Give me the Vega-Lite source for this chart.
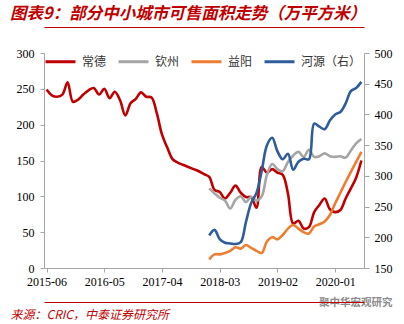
{
  "$schema": "https://vega.github.io/schema/vega-lite/v6.json",
  "width": 320,
  "height": 215,
  "autosize": {"type": "none"},
  "padding": {"left": 44, "top": 53, "right": 40, "bottom": 56},
  "background": "white",
  "title": {
    "text": "图表9：部分中小城市可售面积走势（万平方米）",
    "anchor": "start",
    "frame": "bounds",
    "font": "Noto Sans CJK SC",
    "fontSize": 16.5,
    "fontWeight": "bold",
    "fontStyle": "italic",
    "color": "#C00000",
    "offset": 5
  },
  "data": {
    "values": [
      {"m": "2015-06", "常德": 249},
      {"m": "2015-07", "常德": 241},
      {"m": "2015-08", "常德": 239},
      {"m": "2015-09", "常德": 242},
      {"m": "2015-10", "常德": 259},
      {"m": "2015-11", "常德": 232},
      {"m": "2015-12", "常德": 235},
      {"m": "2016-01", "常德": 242},
      {"m": "2016-02", "常德": 248},
      {"m": "2016-03", "常德": 251},
      {"m": "2016-04", "常德": 242},
      {"m": "2016-05", "常德": 250},
      {"m": "2016-06", "常德": 237},
      {"m": "2016-07", "常德": 246},
      {"m": "2016-08", "常德": 234},
      {"m": "2016-09", "常德": 213},
      {"m": "2016-10", "常德": 230},
      {"m": "2016-11", "常德": 236},
      {"m": "2016-12", "常德": 245},
      {"m": "2017-01", "常德": 239},
      {"m": "2017-02", "常德": 238},
      {"m": "2017-03", "常德": 216},
      {"m": "2017-04", "常德": 186},
      {"m": "2017-05", "常德": 168},
      {"m": "2017-06", "常德": 152},
      {"m": "2017-07", "常德": 147},
      {"m": "2017-08", "常德": 144},
      {"m": "2017-09", "常德": 141},
      {"m": "2017-10", "常德": 138},
      {"m": "2017-11", "常德": 135},
      {"m": "2017-12", "常德": 131},
      {"m": "2018-01", "常德": 127, "钦州": 111, "益阳": 12, "河源（右）": 203},
      {"m": "2018-02", "常德": 109, "钦州": 104, "益阳": 19, "河源（右）": 212},
      {"m": "2018-03", "常德": 106, "钦州": 98, "益阳": 19, "河源（右）": 197},
      {"m": "2018-04", "常德": 97, "钦州": 94, "益阳": 21, "河源（右）": 191},
      {"m": "2018-05", "常德": 105, "钦州": 83, "益阳": 24, "河源（右）": 190},
      {"m": "2018-06", "常德": 115, "钦州": 95, "益阳": 29, "河源（右）": 189},
      {"m": "2018-07", "常德": 105, "钦州": 100, "益阳": 27, "河源（右）": 192},
      {"m": "2018-08", "常德": 99, "钦州": 92, "益阳": 32, "河源（右）": 225},
      {"m": "2018-09", "常德": 99, "钦州": 99, "益阳": 28, "河源（右）": 256},
      {"m": "2018-10", "常德": 84, "钦州": 94, "益阳": 24, "河源（右）": 272},
      {"m": "2018-11", "常德": 141, "钦州": 100, "益阳": 21, "河源（右）": 308},
      {"m": "2018-12", "常德": 133, "钦州": 130, "益阳": 37, "河源（右）": 350},
      {"m": "2019-01", "常德": 138, "钦州": 145, "益阳": 43, "河源（右）": 362},
      {"m": "2019-02", "常德": 133, "钦州": 138, "益阳": 40, "河源（右）": 340},
      {"m": "2019-03", "常德": 130, "钦州": 135, "益阳": 46, "河源（右）": 327},
      {"m": "2019-04", "常德": 104, "钦州": 148, "益阳": 55, "河源（右）": 336},
      {"m": "2019-05", "常德": 62, "钦州": 157, "益阳": 60, "河源（右）": 310},
      {"m": "2019-06", "常德": 66, "钦州": 162, "益阳": 55, "河源（右）": 323},
      {"m": "2019-07", "常德": 55, "钦州": 155, "益阳": 50, "河源（右）": 328},
      {"m": "2019-08", "常德": 57, "钦州": 165, "益阳": 48, "河源（右）": 327},
      {"m": "2019-09", "常德": 78, "钦州": 155, "益阳": 58, "河源（右）": 385},
      {"m": "2019-10", "常德": 88, "钦州": 156, "益阳": 61, "河源（右）": 380},
      {"m": "2019-11", "常德": 97, "钦州": 160, "益阳": 65, "河源（右）": 376},
      {"m": "2019-12", "常德": 82, "钦州": 156, "益阳": 74, "河源（右）": 390},
      {"m": "2020-01", "常德": 78, "钦州": 155, "益阳": 90, "河源（右）": 400},
      {"m": "2020-02", "常德": 81, "钦州": 156, "益阳": 105, "河源（右）": 404},
      {"m": "2020-03", "常德": 97, "钦州": 154, "益阳": 120, "河源（右）": 418},
      {"m": "2020-04", "常德": 111, "钦州": 164, "益阳": 134, "河源（右）": 438},
      {"m": "2020-05", "常德": 126, "钦州": 174, "益阳": 148, "河源（右）": 443},
      {"m": "2020-06", "常德": 150, "钦州": 180, "益阳": 162, "河源（右）": 453}
    ]
  },
  "config": {
    "view": {"stroke": null},
    "axis": {
      "labelFont": "Liberation Serif",
      "labelFontSize": 12,
      "labelColor": "#000000",
      "domainColor": "#A6A6A6",
      "tickColor": "#A6A6A6",
      "grid": false
    },
    "legend": {
      "orient": "none",
      "legendX": 0,
      "legendY": -8,
      "direction": "horizontal",
      "symbolType": "stroke",
      "symbolSize": 900,
      "symbolStrokeWidth": 3,
      "labelFont": "Noto Sans CJK SC",
      "labelFontSize": 12,
      "labelColor": "#333333",
      "labelOffset": 5,
      "columnPadding": 5,
      "title": null
    }
  },
  "layer": [
    {
      "transform": [{"fold": ["常德", "钦州"], "as": ["s", "v"]}],
      "mark": {"type": "line", "strokeWidth": 2.6, "interpolate": "catmull-rom"},
      "encoding": {
        "x": {
          "field": "m", "type": "ordinal",
          "scale": {"type": "point", "padding": 0.5},
          "axis": {
            "orient": "bottom",
            "values": ["2015-06", "2016-05", "2017-04", "2018-03", "2019-02", "2020-01"],
            "labelAngle": 0, "tickSize": 4, "labelPadding": 4,
            "title": "聚中华宏观研究",
            "titleX": 348, "titleY": 34, "titleAlign": "right", "titleBaseline": "middle",
            "titleColor": "#8C8C8C", "titleFont": "Noto Sans CJK SC", "titleFontSize": 10.5, "titleFontWeight": "bold"
          }
        },
        "y": {
          "field": "v", "type": "quantitative",
          "scale": {"domain": [0, 300], "nice": false},
          "axis": {"orient": "left", "values": [0, 50, 100, 150, 200, 250, 300], "tickSize": 4, "labelPadding": 6, "title": null}
        },
        "color": {
          "field": "s", "type": "nominal",
          "scale": {"domain": ["常德", "钦州", "益阳", "河源（右）"], "range": ["#C00000", "#A5A5A5", "#ED7D31", "#2F5C9A"]}
        },
        "detail": {"field": "s"}
      }
    },
    {
      "transform": [{"fold": ["益阳"], "as": ["s", "v"]}],
      "mark": {"type": "line", "strokeWidth": 2.6, "interpolate": "catmull-rom"},
      "encoding": {
        "x": {
          "field": "m", "type": "ordinal",
          "scale": {"type": "point", "padding": 0.5},
          "axis": {
            "orient": "bottom", "offset": 34, "labels": false, "ticks": false,
            "domainColor": "#C00000", "domainWidth": 1,
            "title": "来源：CRIC，中泰证券研究所",
            "titleX": -34, "titleY": 12, "titleAlign": "left", "titleBaseline": "middle",
            "titleColor": "#C00000", "titleFont": "Noto Sans CJK SC", "titleFontSize": 12, "titleFontWeight": "normal", "titleFontStyle": "italic"
          }
        },
        "y": {
          "field": "v", "type": "quantitative",
          "scale": {"domain": [0, 300], "nice": false},
          "axis": null
        },
        "color": {"field": "s", "type": "nominal"}
      }
    },
    {
      "transform": [{"fold": ["河源（右）"], "as": ["s", "v"]}],
      "mark": {"type": "line", "strokeWidth": 2.6, "interpolate": "catmull-rom"},
      "encoding": {
        "x": {
          "field": "m", "type": "ordinal",
          "scale": {"type": "point", "padding": 0.5},
          "axis": {
            "orient": "top", "offset": 26, "labels": false, "ticks": false,
            "domainColor": "#C00000", "domainWidth": 1, "title": null
          }
        },
        "y": {
          "field": "v", "type": "quantitative",
          "scale": {"domain": [150, 500], "nice": false},
          "axis": {"orient": "right", "values": [150, 200, 250, 300, 350, 400, 450, 500], "tickSize": 5, "labelPadding": 5, "title": null}
        },
        "color": {"field": "s", "type": "nominal"}
      }
    }
  ],
  "resolve": {
    "scale": {"y": "independent"},
    "axis": {"x": "independent", "y": "independent"}
  }
}
